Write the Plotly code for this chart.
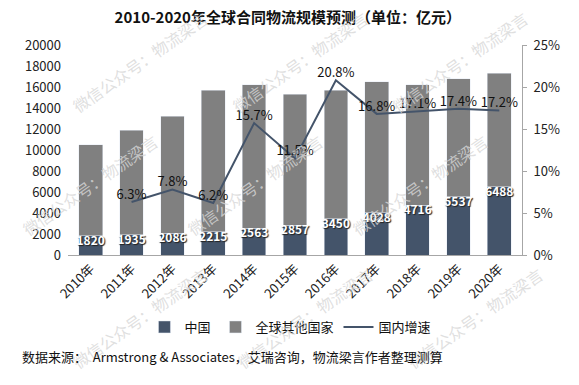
import plotly.graph_objects as go

years = ["2010年", "2011年", "2012年", "2013年", "2014年", "2015年",
         "2016年", "2017年", "2018年", "2019年", "2020年"]
china = [1820, 1935, 2086, 2215, 2563, 2857, 3450, 4028, 4716, 5537, 6488]
total = [10500, 11900, 13200, 15700, 16200, 15300, 15700, 16500, 16200, 16800, 17300]
others = [t - c for t, c in zip(total, china)]
growth_years = years[1:]
growth = [6.3, 7.8, 6.2, 15.7, 11.5, 20.8, 16.8, 17.1, 17.4, 17.2]

FONT = "Noto Sans CJK SC"
DARK = "#44546A"
GRAY = "#808080"

fig = go.Figure()
fig.add_trace(go.Bar(x=years, y=china, name="中国", marker_color=DARK,
                     hoverinfo="skip"))
fig.add_trace(go.Bar(x=years, y=others, name="全球其他国家", marker_color=GRAY,
                     hoverinfo="skip"))
fig.add_trace(go.Scatter(x=years, y=china, mode="text",
                         text=[str(v) for v in china],
                         textposition="bottom center",
                         textfont=dict(color="white", size=12, family=FONT,
                                       weight="bold", shadow="1px 1px 1px #222"),
                         showlegend=False, hoverinfo="skip"))
fig.add_trace(go.Scatter(x=growth_years, y=growth, name="国内增速", yaxis="y2",
                         mode="lines+text", line=dict(color=DARK, width=2),
                         text=[f"{v}%" for v in growth], textposition="top center",
                         textfont=dict(color="#111111", size=13, family=FONT),
                         hoverinfo="skip"))

L, R, T, B, W, H = 68, 57, 45, 130, 579, 385
pw, ph = W - L - R, H - T - B
# faint watermarks (pixel centres), kept inside the page
wm_px = [(140, 62), (300, 62), (460, 62),
         (90, 185), (255, 185), (420, 185),
         (140, 318), (305, 318), (475, 318)]
annotations = []
for px, py in wm_px:
    annotations.append(dict(x=(px - L) / pw, y=(H - B - py) / ph, xref="paper", yref="paper",
                            xanchor="center", yanchor="middle",
                            text="微信公众号：物流梁言", showarrow=False, textangle=-35,
                            font=dict(size=16, color="rgba(215,215,215,0.8)", family=FONT)))
annotations.append(dict(x=(20 - L) / pw, y=(H - B - 356) / ph, xref="paper", yref="paper",
                        xanchor="left", yanchor="middle", showarrow=False,
                        text="数据来源：  Armstrong & Associates，艾瑞咨询，物流梁言作者整理测算",
                        font=dict(size=13, color="#111111", family=FONT)))

fig.update_layout(
    width=W, height=H,
    margin=dict(l=L, r=R, t=T, b=B),
    paper_bgcolor="white", plot_bgcolor="white",
    barmode="stack", bargap=0.42,
    font=dict(family=FONT, color="#222222", size=13),
    title=dict(text="<b>2010-2020年全球合同物流规模预测（单位：亿元）</b>",
               x=0.497, xanchor="center", y=0.955, yanchor="middle",
               font=dict(size=15, color="#111111", family=FONT)),
    xaxis=dict(showline=True, linecolor="#a6a6a6", linewidth=1, tickangle=-45,
               ticks="", tickfont=dict(size=13, color="#222222")),
    yaxis=dict(range=[0, 20000], dtick=2000, tickformat="d", showgrid=False,
               zeroline=False, showline=False, ticklabelstandoff=6,
               tickfont=dict(size=13, color="#222222")),
    yaxis2=dict(overlaying="y", side="right", range=[0, 25], dtick=5,
                ticksuffix="%", showgrid=False, zeroline=False,
                showline=True, linecolor="#a6a6a6", ticks="outside", ticklen=4,
                ticklabelstandoff=4,
                tickcolor="#a6a6a6", tickfont=dict(size=13, color="#222222")),
    legend=dict(orientation="h", x=0.49, xanchor="center", y=(H - B - 327) / ph,
                yanchor="middle", font=dict(size=13, color="#111111"),
                traceorder="normal"),
    annotations=annotations,
    showlegend=True,
)

fig.write_html("out.html", config={"displayModeBar": False},
               post_script="document.body.style.margin='0';")
